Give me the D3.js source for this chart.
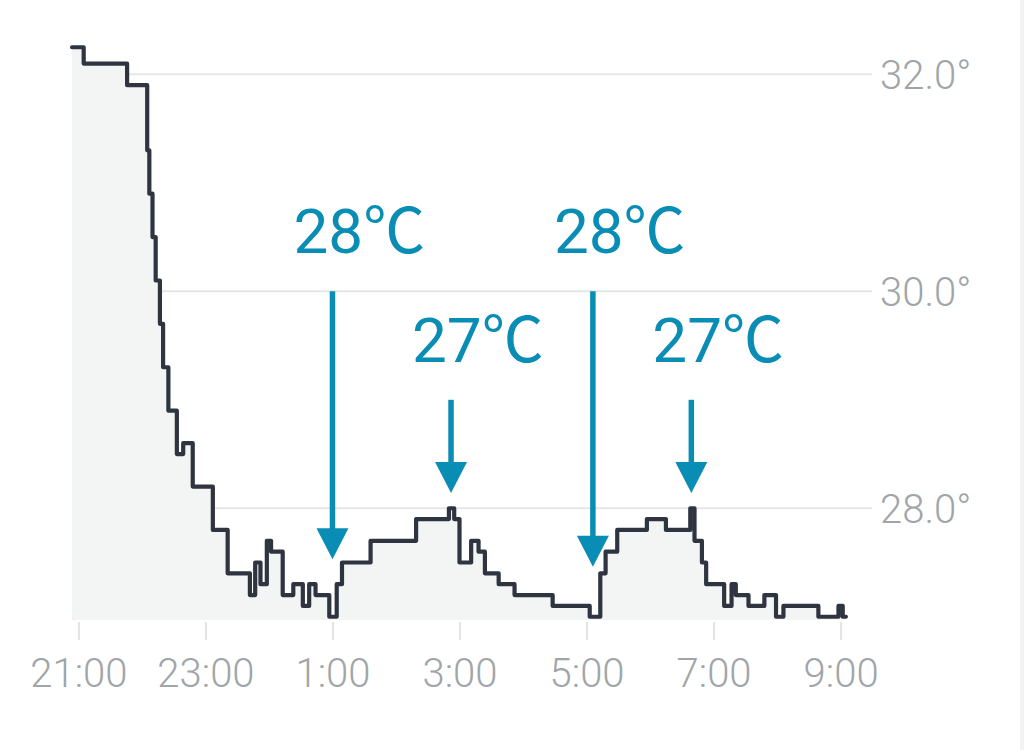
<!DOCTYPE html>
<html>
<head>
<meta charset="utf-8">
<script src="https://cdn.jsdelivr.net/npm/d3@7"></script>
<style>
  html, body { margin: 0; padding: 0; background: #ffffff; }
  svg { display: block; }
</style>
</head>
<body>
<svg id="chart" width="1024" height="750"></svg>
<script>
// ---- data ----
const times = ["20:54","21:05","21:46","22:05","22:07","22:10","22:13","22:17","22:20","22:25",
  "22:33","22:39","22:48","23:07","23:21","23:42","23:47","23:52","23:58","0:02",
  "0:13","0:23","0:32","0:38","0:44","0:57","1:04","1:09","1:36","2:19",
  "2:50","2:55","3:00","3:11","3:18","3:24","3:37","3:52","4:28","5:03",
  "5:13","5:18","5:29","5:57","6:15","6:38","6:42","6:49","6:53","7:10",
  "7:17","7:21","7:33","7:48","7:59","8:06","8:39","8:58","9:02","9:05"];
const temps = [32.25,32.1,31.9,31.3,30.9,30.5,30.1,29.7,29.3,28.9,
  28.5,28.6,28.2,27.8,27.4,27.2,27.5,27.3,27.7,27.6,
  27.2,27.3,27.1,27.3,27.2,27.0,27.3,27.5,27.7,27.9,
  28.0,27.9,27.5,27.7,27.6,27.4,27.3,27.2,27.1,27.0,
  27.4,27.6,27.8,27.9,27.8,28.0,27.7,27.5,27.3,27.1,
  27.3,27.2,27.1,27.2,27.0,27.1,27.0,27.1,27.0,27.0];
const xTickLabels = ["21:00","23:00","1:00","3:00","5:00","7:00","9:00"];
const yTickValues = [28, 30, 32];
// annotations: time of arrow, label, arrow tail value, arrow tip value
const noteTimes  = ["1:00","2:52","5:06","6:39"];
const noteLabels = ["28℃","27℃","28℃","27℃"];
const noteTails  = [30.0, 29.0, 30.0, 29.0];
const noteTips   = [27.53, 28.14, 27.46, 28.14];

// ---- helpers ----
const p = d3.timeParse("%H:%M");
function parseT(s) {
  const d = p(s);
  if (d.getHours() < 12) d.setDate(d.getDate() + 1);
  return d;
}
const data = times.map((t, i) => ({ t: parseT(t), v: temps[i] }));

const svg = d3.select("#chart");
const W = 1024, H = 750;
svg.append("rect").attr("width", W).attr("height", H).attr("fill", "#ffffff");
svg.append("rect").attr("x", 1020).attr("y", 0).attr("width", 4).attr("height", H).attr("fill", "#f2f3f4");

const x = d3.scaleTime()
  .domain([parseT("21:00"), parseT("9:00")])
  .range([78.4, 840.6]);
const y = d3.scaleLinear()
  .domain([26.97, 32.28])
  .range([620, 44]);

const gridRight = 872;
const fontAxis = "Roboto, 'Helvetica Neue', Arial, sans-serif";

// gridlines
svg.append("g").selectAll("line").data(yTickValues).join("line")
  .attr("x1", x(data[0].t)).attr("x2", gridRight)
  .attr("y1", d => y(d)).attr("y2", d => y(d))
  .attr("stroke", "#e4e6e7").attr("stroke-width", 2);

// area
const area = d3.area()
  .curve(d3.curveStepAfter)
  .x(d => x(d.t))
  .y0(y(26.97))
  .y1(d => y(d.v));
svg.append("path").datum(data).attr("d", area).attr("fill", "#f3f5f5");

// line
const line = d3.line()
  .curve(d3.curveStepAfter)
  .x(d => x(d.t))
  .y(d => y(d.v));
svg.append("path").datum(data).attr("d", line)
  .attr("fill", "none").attr("stroke", "#2f3441")
  .attr("stroke-width", 4.2).attr("stroke-linejoin", "round").attr("stroke-linecap", "round");

// y labels
svg.append("g").selectAll("text").data(yTickValues).join("text")
  .attr("x", 880).attr("y", d => y(d) + 15)
  .attr("font-family", fontAxis).attr("font-weight", 300)
  .attr("font-size", 40).attr("fill", "#a0a5a8")
  .text(d => d3.format(".1f")(d) + "°");

// x axis
const xAxis = d3.axisBottom(x)
  .tickValues(xTickLabels.map(parseT))
  .tickFormat(d3.timeFormat("%-H:%M"))
  .tickSize(18).tickPadding(19);
const gx = svg.append("g").attr("transform", `translate(0, ${y(26.97) + 2})`).call(xAxis);
gx.select(".domain").remove();
gx.selectAll(".tick line").attr("stroke", "#e2e4e5").attr("stroke-width", 2);
gx.selectAll(".tick text")
  .attr("font-family", fontAxis).attr("font-weight", 300)
  .attr("font-size", 40).attr("fill", "#a0a5a8");

// annotations
const noteColor = "#0a8db5";
const notes = svg.append("g");
noteTimes.forEach((t, i) => {
  const ax = x(parseT(t));
  const yt = y(noteTails[i]);
  const yp = y(noteTips[i]);
  const headH = 31, headW = 16;
  notes.append("line")
    .attr("x1", ax).attr("x2", ax).attr("y1", yt).attr("y2", yp - headH + 2)
    .attr("stroke", noteColor).attr("stroke-width", 5.5);
  notes.append("path")
    .attr("d", `M${ax - headW},${yp - headH} L${ax + headW},${yp - headH} L${ax},${yp} Z`)
    .attr("fill", noteColor);
  notes.append("text")
    .attr("x", ax - 39).attr("y", yt - 38)
    .attr("font-family", "Roboto, 'Noto Sans CJK JP', sans-serif")
    .attr("font-size", 62).attr("fill", noteColor)
    .text(noteLabels[i]);
});
</script>
</body>
</html>
